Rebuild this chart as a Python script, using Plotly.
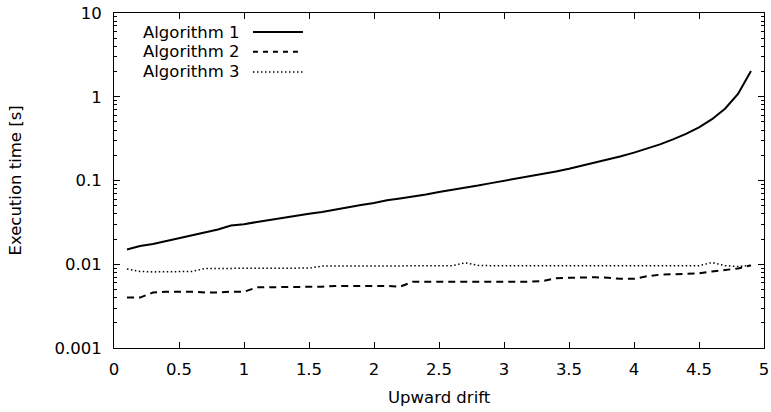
import plotly.graph_objects as go

drift = [round(0.1 * i, 1) for i in range(1, 50)]

alg1 = [0.015, 0.0165, 0.0175, 0.019, 0.0205, 0.022, 0.024, 0.026, 0.029, 0.030,
        0.032, 0.034, 0.036, 0.038, 0.040, 0.042, 0.045, 0.048, 0.051, 0.054,
        0.058, 0.061, 0.064, 0.068, 0.073, 0.077, 0.082, 0.087, 0.093, 0.099,
        0.105, 0.112, 0.120, 0.128, 0.138, 0.150, 0.163, 0.178, 0.195, 0.215,
        0.24, 0.27, 0.31, 0.36, 0.43, 0.54, 0.72, 1.08, 2.03]

alg2 = [0.0040, 0.0040, 0.0046, 0.0047, 0.0047, 0.0047, 0.0046, 0.0046, 0.0047, 0.0047,
        0.0053, 0.0053, 0.0054, 0.0054, 0.0054, 0.0054, 0.0055, 0.0055, 0.0056, 0.0056,
        0.0055, 0.0054, 0.0062, 0.0062, 0.0062, 0.0062, 0.0061, 0.0061, 0.0062, 0.0062,
        0.0062, 0.0062, 0.0063, 0.0068, 0.0069, 0.0070, 0.0070, 0.0069, 0.0067, 0.0067,
        0.0072, 0.0075, 0.0076, 0.0077, 0.0078, 0.0082, 0.0085, 0.0089, 0.0097]

alg3 = [0.0088, 0.0082, 0.0081, 0.0081, 0.0081, 0.0082, 0.0089, 0.0089, 0.0089, 0.0089,
        0.0090, 0.0090, 0.0089, 0.0089, 0.0090, 0.0095, 0.0095, 0.0095, 0.0095, 0.0095,
        0.0095, 0.0095, 0.0096, 0.0096, 0.0096, 0.0096, 0.0104, 0.0097, 0.0096, 0.0096,
        0.0096, 0.0096, 0.0096, 0.0097, 0.0096, 0.0096, 0.0096, 0.0096, 0.0096, 0.0096,
        0.0096, 0.0096, 0.0096, 0.0096, 0.0096, 0.0105, 0.0096, 0.0094, 0.0097]

names = ["Algorithm 1", "Algorithm 2", "Algorithm 3"]
dashes = ["solid", "7px,5px", "1.5px,2.5px"]
legend_dashes = ["solid", "5px,5px", "1.5px,2.5px"]
widths = [2, 2, 1.5]

x_ticks = [0, 0.5, 1, 1.5, 2, 2.5, 3, 3.5, 4, 4.5, 5]
x_labels = ["0", "0.5", "1", "1.5", "2", "2.5", "3", "3.5", "4", "4.5", "5"]

FONT = "DejaVu Sans"
FS = 16.5

fig = go.Figure()
for name, ys, d, w in zip(names, [alg1, alg2, alg3], dashes, widths):
    fig.add_trace(go.Scatter(x=drift, y=ys, mode="lines", name=name,
                             line=dict(color="black", width=w, dash=d),
                             showlegend=False))

# custom legend (text then sample line, gnuplot style)
leg_y = [0.943, 0.884, 0.824]
for name, d, w, yy in zip(names, legend_dashes, widths, leg_y):
    fig.add_annotation(x=0.197, y=yy, xref="paper", yref="paper", text=name,
                       showarrow=False, xanchor="right", yanchor="middle",
                       font=dict(family=FONT, size=FS, color="black"))
    fig.add_shape(type="line", xref="paper", yref="paper", x0=0.2138, x1=0.2908,
                  y0=yy, y1=yy, line=dict(color="black", width=w, dash=d))

# axis titles
fig.add_annotation(x=0.5, y=-0.1475, xref="paper", yref="paper", text="Upward drift",
                   showarrow=False, xanchor="center", yanchor="middle",
                   font=dict(family=FONT, size=FS, color="black"))
fig.add_annotation(x=-0.1523, y=0.5, xref="paper", yref="paper",
                   text="Execution time [s]", textangle=-90,
                   showarrow=False, xanchor="center", yanchor="middle",
                   font=dict(family=FONT, size=FS, color="black"))

fig.update_layout(
    width=771, height=412,
    margin=dict(l=114, r=7, t=13, b=63.5),
    paper_bgcolor="white", plot_bgcolor="white",
    font=dict(family=FONT, size=FS, color="black"),
    xaxis=dict(range=[0, 5], tickmode="array", tickvals=x_ticks, ticktext=x_labels,
               ticks="inside", ticklen=6, tickwidth=1, tickcolor="black",
               ticklabelstandoff=6,
               showline=True, linecolor="black", linewidth=1, mirror="ticks",
               showgrid=False, zeroline=False, automargin=False),
    yaxis=dict(type="log", range=[-3, 1], tickmode="linear", tick0=0, dtick=1,
               exponentformat="none",
               ticks="inside", ticklen=6, tickwidth=1, tickcolor="black",
               ticklabelstandoff=8,
               showline=True, linecolor="black", linewidth=1, mirror="ticks",
               showgrid=False, zeroline=False, automargin=False,
               minor=dict(dtick="D1", ticks="inside", ticklen=3, tickwidth=1,
                          tickcolor="black", showgrid=False)),
)

fig.write_html("out.html",
               config={"displayModeBar": False},
               post_script="document.body.style.margin='0';document.body.style.overflow='hidden';")
